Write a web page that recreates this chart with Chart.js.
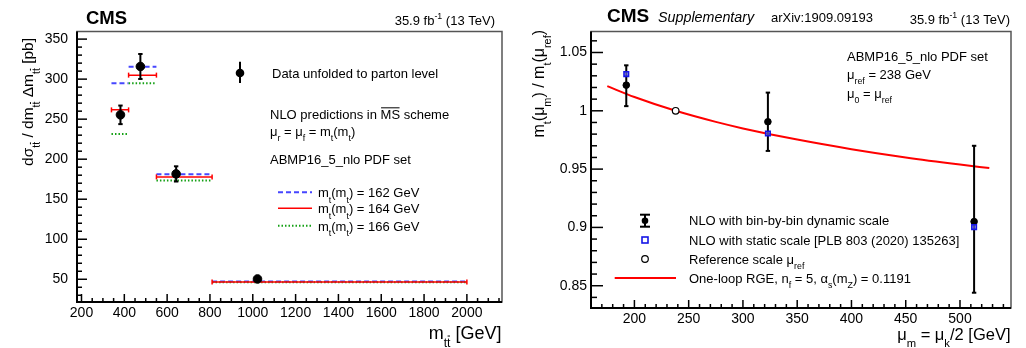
<!DOCTYPE html>
<html>
<head>
<meta charset="utf-8">
<script src="https://cdn.jsdelivr.net/npm/chart.js@4.4.0/dist/chart.umd.min.js"></script>
<style>
  html, body { margin: 0; padding: 0; background: #fff; }
  #wrap { position: relative; width: 1026px; height: 348px; }
  .panel { position: absolute; top: 0; height: 348px; }
  #left { left: 0; width: 512px; }
  #right { left: 512px; width: 514px; }
</style>
</head>
<body>
<div id="wrap">
  <div class="panel" id="left"><canvas id="mttChart" width="512" height="348"></canvas></div>
  <div class="panel" id="right"><canvas id="runChart" width="514" height="348"></canvas></div>
</div>
<script>
const FONT = '"Liberation Sans", Arial, Helvetica, sans-serif';

// Left panel: dsigma/dmtt per bin
const binEdges = [340, 420, 550, 810, 2000];
const dataMtt = [382, 475, 642, 1022];
const dataXsec = [255.4, 315.8, 181.6, 50.4];
const dataXsecErr = [11.6, 15.6, 9.5, 3];
const nlo162 = [295, 315.4, 181.3, 47.2];
const nlo164 = [261.6, 305, 177.9, 46.6];
const nlo166 = [231.6, 295, 173.3, 46.2];
const xTicksLeft = [200, 400, 600, 800, 1000, 1200, 1400, 1600, 1800, 2000];
const yTicksLeft = [50, 100, 150, 200, 250, 300, 350];

// Right panel: running of mt
const muM = [192.5, 323, 513];
const ratioDyn = [1.022, 0.9906, 0.905];
const ratioDynErrUp = [0.017, 0.025, 0.065];
const ratioDynErrDown = [0.018, 0.025, 0.061];
const ratioStatic = [1.0315, 0.9805, 0.9003];
const muRef = [238];
const ratioRef = [1.0];
const rgeMu = [175, 200, 238, 275, 300, 350, 400, 450, 500, 527];
const rgeRatio = [1.0211, 1.0118, 1.0, 0.9905, 0.9849, 0.9753, 0.9671, 0.96, 0.9539, 0.9509];
const xTicksRight = [200, 250, 300, 350, 400, 450, 500];
const yTicksRight = [0.85, 0.9, 0.95, 1, 1.05];

const colors = {
    blue: 'rgb(70, 70, 255)',
    red: 'rgb(255, 0, 0)',
    green: 'rgb(20, 160, 20)',
    frame: '#555'
};

// text with sub/superscripts: parts = [[text, kind]], kind '' | '_' | '^' | 'o' (overline) | '_o'
function richText(ctx, x, y, parts, size, opts) {
    opts = opts || {};
    const style = opts.style ? opts.style + ' ' : '';
    const items = parts.map(function(p) {
        const kind = p[1] || '';
        const small = kind.indexOf('_') === 0 || kind === '^';
        const s = small ? size * 0.68 : size;
        ctx.font = style + s + 'px ' + FONT;
        return { t: p[0], kind: kind, s: s, w: ctx.measureText(p[0]).width };
    });
    const total = items.reduce(function(a, it) { return a + it.w; }, 0);
    let cx = opts.align === 'right' ? x - total : x;
    items.forEach(function(it) {
        ctx.font = style + it.s + 'px ' + FONT;
        let dy = 0;
        if (it.kind.indexOf('_') === 0) dy = size * 0.42;
        if (it.kind === '^') dy = -size * 0.45;
        ctx.fillText(it.t, cx, y + dy);
        if (it.kind.indexOf('o') >= 0) {
            const oy = y + dy - it.s * 0.86;
            ctx.save();
            ctx.lineWidth = 1;
            ctx.strokeStyle = ctx.fillStyle;
            ctx.beginPath();
            ctx.moveTo(cx + 0.5, oy);
            ctx.lineTo(cx + it.w - 0.5, oy);
            ctx.stroke();
            ctx.restore();
        }
        cx += it.w;
    });
    return total;
}

function rotatedText(ctx, x, yTop, parts, size) {
    ctx.save();
    ctx.translate(x, yTop);
    ctx.rotate(-Math.PI / 2);
    richText(ctx, 0, 0, parts, size, { align: 'right' });
    ctx.restore();
}

function line(ctx, x1, y1, x2, y2) {
    ctx.beginPath();
    ctx.moveTo(x1, y1);
    ctx.lineTo(x2, y2);
    ctx.stroke();
}

// ROOT-like frame with ticks pointing inward
function rootFrame(o) {
    return {
        id: 'rootFrame',
        afterDraw(chart) {
            const ctx = chart.ctx;
            const a = chart.chartArea;
            const xs = chart.scales.x;
            const ys = chart.scales.y;
            ctx.save();
            ctx.strokeStyle = colors.frame;
            ctx.lineWidth = 1.5;
            ctx.strokeRect(a.left, a.top, a.right - a.left, a.bottom - a.top);
            ctx.strokeStyle = '#000';
            ctx.lineWidth = 2;
            line(ctx, a.left, a.top, a.left, a.bottom + 1);
            line(ctx, a.left - 1, a.bottom, a.right, a.bottom);
            ctx.lineWidth = 1.5;
            const steps = function(min, max, step) {
                const out = [];
                for (let k = Math.ceil(min / step - 1e-9); k * step <= max + 1e-9; k++) {
                    out.push(Math.round(k * step * 1e6) / 1e6);
                }
                return out;
            };
            steps(xs.min, xs.max, o.xMinor).forEach(function(v) {
                const px = xs.getPixelForValue(v);
                const major = Math.abs(v / o.xMajor - Math.round(v / o.xMajor)) < 1e-6;
                line(ctx, px, a.bottom, px, a.bottom - (major ? o.xLen : o.xLen / 2));
            });
            steps(ys.min, ys.max, o.yMinor).forEach(function(v) {
                const py = ys.getPixelForValue(v);
                const major = Math.abs(v / o.yMajor - Math.round(v / o.yMajor)) < 1e-6;
                line(ctx, a.left, py, a.left + (major ? o.yLen : o.yLen / 2), py);
            });
            ctx.restore();
        }
    };
}

// vertical error bars, drawn just before the marker dataset
function errorBars(o) {
    return {
        id: 'errorBars',
        beforeDatasetDraw(chart, args) {
            if (args.index !== o.index) return;
            const ctx = chart.ctx;
            const xs = chart.scales.x;
            const ys = chart.scales.y;
            ctx.save();
            ctx.strokeStyle = '#000';
            ctx.lineWidth = 2;
            o.x.forEach(function(xv, i) {
                const px = xs.getPixelForValue(xv);
                const top = ys.getPixelForValue(o.y[i] + o.up[i]);
                const bot = ys.getPixelForValue(o.y[i] - o.down[i]);
                line(ctx, px, top, px, bot);
                line(ctx, px - o.cap, top, px + o.cap, top);
                line(ctx, px - o.cap, bot, px + o.cap, bot);
            });
            ctx.restore();
        }
    };
}

function binSegments(values) {
    const pts = [];
    values.forEach(function(v, i) {
        pts.push({ x: binEdges[i], y: v }, { x: binEdges[i + 1], y: v }, { x: binEdges[i + 1], y: null });
    });
    return pts;
}

function axisTicks(padding) {
    return {
        padding: padding,
        color: '#000',
        font: { family: FONT, size: 14 },
        maxRotation: 0,
        autoSkip: false,
        callback: function(value) { return String(value); }
    };
}

const noGrid = { display: false, drawTicks: false, tickLength: 0 };

// ---------- left chart ----------
const leftText = {
    id: 'leftText',
    afterDraw(chart) {
        const ctx = chart.ctx;
        const xs = chart.scales.x;
        const ys = chart.scales.y;
        ctx.save();
        ctx.fillStyle = '#000';
        ctx.textBaseline = 'alphabetic';

        // red end caps on the 164 GeV prediction
        ctx.strokeStyle = colors.red;
        ctx.lineWidth = 1.5;
        nlo164.forEach(function(v, i) {
            const py = ys.getPixelForValue(v);
            [binEdges[i], binEdges[i + 1]].forEach(function(e) {
                const px = xs.getPixelForValue(e);
                line(ctx, px, py - 2.5, px, py + 2.5);
            });
        });

        richText(ctx, 86, 23.5, [['CMS', '']], 18.5, { style: 'bold' });
        richText(ctx, 495, 25, [['35.9 fb', ''], ['-1', '^'], [' (13 TeV)', '']], 13, { align: 'right' });

        // legend
        ctx.strokeStyle = '#000';
        ctx.lineWidth = 2;
        line(ctx, 240, 61.7, 240, 83);
        ctx.beginPath();
        ctx.arc(240, 73, 4.3, 0, Math.PI * 2);
        ctx.fill();
        richText(ctx, 272, 78, [['Data unfolded to parton level', '']], 13);
        richText(ctx, 270, 119, [['NLO predictions in ', ''], ['MS', 'o'], [' scheme', '']], 13);
        richText(ctx, 270, 136, [['\u03bc', ''], ['r', '_'], [' = \u03bc', ''], ['f', '_'], [' = m', ''], ['t', '_'], ['(m', ''], ['t', '_'], [')', '']], 13);
        richText(ctx, 270, 164, [['ABMP16_5_nlo PDF set', '']], 13);

        const entries = [
            { y: 192.3, c: colors.blue, dash: [5, 3], w: 2, m: '162' },
            { y: 208.3, c: colors.red, dash: [], w: 1.5, m: '164' },
            { y: 225.7, c: colors.green, dash: [1.5, 2], w: 2, m: '166' }
        ];
        entries.forEach(function(e) {
            ctx.strokeStyle = e.c;
            ctx.lineWidth = e.w;
            ctx.setLineDash(e.dash);
            line(ctx, 278, e.y, 312, e.y);
            ctx.setLineDash([]);
            richText(ctx, 318, e.y + 5, [['m', ''], ['t', '_'], ['(m', ''], ['t', '_'], [') = ' + e.m + ' GeV', '']], 13);
        });

        // axis titles
        const tt = [['t', '_'], ['t', '_o']];
        richText(ctx, 501.5, 339, [['m', '']].concat(tt, [[' [GeV]', '']]), 18, { align: 'right' });
        rotatedText(ctx, 33, 38, [['d\u03c3', '']].concat(tt, [[' / dm', '']], tt, [[' \u0394m', '']], tt, [[' [pb]', '']]), 15.5);
        ctx.restore();
    }
};

new Chart(document.getElementById('mttChart'), {
    type: 'scatter',
    data: {
        datasets: [
            {
                label: 'Data',
                data: dataMtt.map(function(x, i) { return { x: x, y: dataXsec[i] }; }),
                backgroundColor: '#000',
                borderColor: '#000',
                pointRadius: 4.3,
                order: 0
            },
            {
                label: 'mt = 162 GeV',
                data: binSegments(nlo162),
                showLine: true,
                borderColor: colors.blue,
                borderWidth: 2,
                borderDash: [5, 3],
                pointRadius: 0,
                order: 3
            },
            {
                label: 'mt = 164 GeV',
                data: binSegments(nlo164),
                showLine: true,
                borderColor: colors.red,
                borderWidth: 1.5,
                pointRadius: 0,
                order: 1
            },
            {
                label: 'mt = 166 GeV',
                data: binSegments(nlo166),
                showLine: true,
                borderColor: colors.green,
                borderWidth: 2,
                borderDash: [1.5, 2],
                pointRadius: 0,
                order: 2
            }
        ]
    },
    options: {
        responsive: false,
        animation: false,
        events: [],
        layout: { padding: { left: 0, top: 31.5, right: 10, bottom: 0 } },
        plugins: { legend: { display: false }, tooltip: { enabled: false } },
        scales: {
            x: {
                type: 'linear',
                min: 179,
                max: 2164,
                grid: noGrid,
                border: { display: false },
                afterBuildTicks: function(s) { s.ticks = xTicksLeft.map(function(v) { return { value: v }; }); },
                afterFit: function(s) { s.height = 46; },
                ticks: axisTicks(3)
            },
            y: {
                type: 'linear',
                min: 21.6,
                max: 359.5,
                grid: noGrid,
                border: { display: false },
                afterBuildTicks: function(s) { s.ticks = yTicksLeft.map(function(v) { return { value: v }; }); },
                afterFit: function(s) { s.width = 77; },
                ticks: axisTicks(9)
            }
        }
    },
    plugins: [
        errorBars({ index: 0, x: dataMtt, y: dataXsec, up: dataXsecErr, down: dataXsecErr, cap: 2.2 }),
        rootFrame({ xMajor: 200, xMinor: 50, xLen: 8, yMajor: 50, yMinor: 10, yLen: 10 }),
        leftText
    ]
});

// ---------- right chart ----------
const rightText = {
    id: 'rightText',
    afterDraw(chart) {
        const ctx = chart.ctx;
        ctx.save();
        ctx.fillStyle = '#000';
        ctx.textBaseline = 'alphabetic';

        richText(ctx, 95, 22, [['CMS', '']], 19, { style: 'bold' });
        richText(ctx, 146, 22, [['Supplementary', '']], 14.3, { style: 'italic' });
        richText(ctx, 259, 22, [['arXiv:1909.09193', '']], 13);
        richText(ctx, 498, 23.5, [['35.9 fb', ''], ['-1', '^'], [' (13 TeV)', '']], 13, { align: 'right' });

        richText(ctx, 335, 61, [['ABMP16_5_nlo PDF set', '']], 13);
        richText(ctx, 335, 79, [['\u03bc', ''], ['ref', '_'], [' = 238 GeV', '']], 13);
        richText(ctx, 335, 98, [['\u03bc', ''], ['0', '_'], [' = \u03bc', ''], ['ref', '_']], 13);

        // legend
        const mx = 133;
        ctx.strokeStyle = '#000';
        ctx.lineWidth = 2;
        line(ctx, mx, 214.7, mx, 226.7);
        line(ctx, mx - 5, 214.7, mx + 5, 214.7);
        line(ctx, mx - 5, 226.7, mx + 5, 226.7);
        ctx.beginPath();
        ctx.arc(mx, 220.7, 3.3, 0, Math.PI * 2);
        ctx.fill();
        ctx.strokeStyle = 'rgb(20, 20, 230)';
        ctx.lineWidth = 1.6;
        ctx.strokeRect(mx - 3, 237, 6, 6);
        ctx.strokeStyle = '#000';
        ctx.lineWidth = 1.2;
        ctx.beginPath();
        ctx.arc(mx, 259, 3.3, 0, Math.PI * 2);
        ctx.stroke();
        ctx.strokeStyle = colors.red;
        ctx.lineWidth = 2;
        line(ctx, 102.7, 278, 164, 278);

        richText(ctx, 177, 225, [['NLO with bin-by-bin dynamic scale', '']], 13);
        richText(ctx, 177, 244.5, [['NLO with static scale [PLB 803 (2020) 135263]', '']], 13);
        richText(ctx, 177, 263.5, [['Reference scale \u03bc', ''], ['ref', '_']], 13);
        richText(ctx, 177, 282.5, [['One-loop RGE, n', ''], ['f', '_'], [' = 5, \u03b1', ''], ['s', '_'], ['(m', ''], ['Z', '_'], [') = 0.1191', '']], 13);

        // axis titles
        richText(ctx, 498.5, 340, [['\u03bc', ''], ['m', '_'], [' = \u03bc', ''], ['k', '_'], ['/2 [GeV]', '']], 16.5, { align: 'right' });
        rotatedText(ctx, 32, 30, [['m', ''], ['t', '_'], ['(\u03bc', ''], ['m', '_'], [') / m', ''], ['t', '_'], ['(\u03bc', ''], ['ref', '_'], [')', '']], 16);
        ctx.restore();
    }
};

new Chart(document.getElementById('runChart'), {
    type: 'scatter',
    data: {
        datasets: [
            {
                label: 'NLO with static scale',
                data: muM.map(function(x, i) { return { x: x, y: ratioStatic[i] }; }),
                pointStyle: 'rect',
                pointRadius: 3.2,
                borderWidth: 1.6,
                borderColor: 'rgb(20, 20, 230)',
                backgroundColor: 'rgba(120, 120, 255, 0.6)',
                order: 0
            },
            {
                label: 'Reference scale',
                data: muRef.map(function(x, i) { return { x: x, y: ratioRef[i] }; }),
                pointRadius: 3.3,
                borderWidth: 1.2,
                borderColor: '#000',
                backgroundColor: '#fff',
                order: 1
            },
            {
                label: 'NLO with bin-by-bin dynamic scale',
                data: muM.map(function(x, i) { return { x: x, y: ratioDyn[i] }; }),
                pointRadius: 3.3,
                borderColor: '#000',
                backgroundColor: '#000',
                order: 2
            },
            {
                label: 'One-loop RGE',
                data: rgeMu.map(function(x, i) { return { x: x, y: rgeRatio[i] }; }),
                showLine: true,
                cubicInterpolationMode: 'monotone',
                borderColor: colors.red,
                borderWidth: 2,
                pointRadius: 0,
                order: 3
            }
        ]
    },
    options: {
        responsive: false,
        animation: false,
        events: [],
        layout: { padding: { left: 0, top: 31.5, right: 15, bottom: 0 } },
        plugins: { legend: { display: false }, tooltip: { enabled: false } },
        scales: {
            x: {
                type: 'linear',
                min: 160,
                max: 547,
                grid: noGrid,
                border: { display: false },
                afterBuildTicks: function(s) { s.ticks = xTicksRight.map(function(v) { return { value: v }; }); },
                afterFit: function(s) { s.height = 40; },
                ticks: axisTicks(3)
            },
            y: {
                type: 'linear',
                min: 0.8309,
                max: 1.068,
                grid: noGrid,
                border: { display: false },
                afterBuildTicks: function(s) { s.ticks = yTicksRight.map(function(v) { return { value: v }; }); },
                afterFit: function(s) { s.width = 79; },
                ticks: axisTicks(4)
            }
        }
    },
    plugins: [
        errorBars({ index: 2, x: muM, y: ratioDyn, up: ratioDynErrUp, down: ratioDynErrDown, cap: 2.2 }),
        rootFrame({ xMajor: 50, xMinor: 10, xLen: 8, yMajor: 0.05, yMinor: 0.01, yLen: 12 }),
        rightText
    ]
});
</script>
</body>
</html>
